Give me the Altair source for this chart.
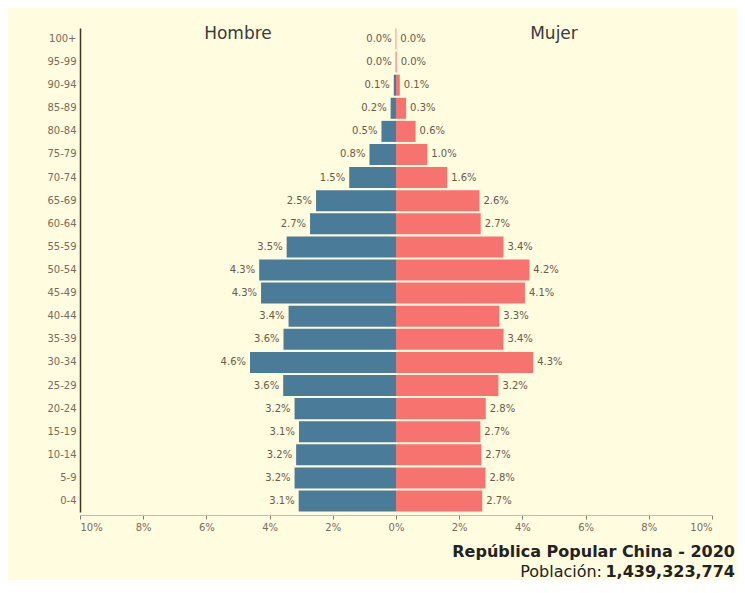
import altair as alt
import pandas as pd

ages = ["100+", "95-99", "90-94", "85-89", "80-84", "75-79", "70-74", "65-69",
        "60-64", "55-59", "50-54", "45-49", "40-44", "35-39", "30-34", "25-29",
        "20-24", "15-19", "10-14", "5-9", "0-4"]
male = [0.01, 0.01, 0.07, 0.17, 0.46, 0.84, 1.48, 2.53, 2.72, 3.46, 4.33, 4.27,
        3.40, 3.56, 4.62, 3.57, 3.21, 3.07, 3.16, 3.21, 3.08]
female = [0.01, 0.02, 0.12, 0.32, 0.62, 0.99, 1.62, 2.64, 2.68, 3.40, 4.22, 4.08,
          3.27, 3.40, 4.34, 3.24, 2.84, 2.67, 2.70, 2.83, 2.73]
x_ticks = [-10, -8, -6, -4, -2, 0, 2, 4, 6, 8, 10]
sex_names = ["Hombre", "Mujer"]
sex_colors = ["#4A7B98", "#F7736F"]
title_text = "República Popular China - 2020"
pop_label = "Población:"
pop_value = "1,439,323,774"

rows = []
for a, m, f in zip(ages, male, female):
    rows.append({"age": a, "sexo": "Hombre", "v": -m, "pct": m})
    rows.append({"age": a, "sexo": "Mujer", "v": f, "pct": f})
df = pd.DataFrame(rows)

xscale = alt.Scale(domain=[-10, 10], nice=False, zero=False)
yscale = alt.Scale(domain=ages, paddingInner=0.09, paddingOuter=0.02)

x_enc = alt.X("v:Q", scale=xscale,
              axis=alt.Axis(values=x_ticks, labelExpr="abs(datum.value) + '%'",
                            title=None, grid=False, offset=3,
                            domainColor="#c9b9a6", tickColor="#8a7a6a",
                            tickSize=4, labelColor="#7a6b5c", labelFontSize=10,
                            labelFont="DejaVu Sans", labelPadding=3))
y_enc = alt.Y("age:N", sort=ages, scale=yscale,
              axis=alt.Axis(title=None, grid=False, ticks=False,
                            domainColor="#3f3428", domainWidth=1.5,
                            labelColor="#7a6b5c", labelFontSize=10,
                            labelFont="DejaVu Sans", labelPadding=4))

base = alt.Chart(df).transform_calculate(
    label="format(datum.pct, '.1f') + '%'"
)

bars = base.mark_bar().encode(
    x=x_enc, y=y_enc,
    color=alt.Color("sexo:N", scale=alt.Scale(domain=sex_names, range=sex_colors),
                    legend=None),
)

lab_m = base.transform_filter("datum.sexo == 'Hombre'").mark_text(
    align="right", dx=-4, fontSize=10, font="DejaVu Sans", color="#6a5a4a"
).encode(x=alt.X("v:Q", scale=xscale), y=alt.Y("age:N", sort=ages, scale=yscale),
         text="label:N")

lab_f = base.transform_filter("datum.sexo == 'Mujer'").mark_text(
    align="left", dx=4, fontSize=10, font="DejaVu Sans", color="#6a5a4a"
).encode(x=alt.X("v:Q", scale=xscale), y=alt.Y("age:N", sort=ages, scale=yscale),
         text="label:N")

hdr = alt.Chart(pd.DataFrame({"s": sex_names, "x": [-5, 5], "age": [ages[0], ages[0]]})).mark_text(
    fontSize=17, font="DejaVu Sans", color="#3a3a3a", dy=-5
).encode(x=alt.X("x:Q", scale=xscale), y=alt.Y("age:N", sort=ages, scale=yscale),
         text="s:N")

t1 = alt.Chart(pd.DataFrame({"t": [title_text]})).mark_text(
    align="right", baseline="middle", fontSize=16, fontWeight="bold",
    font="DejaVu Sans", color="#222222"
).encode(x=alt.value(655), y=alt.value(524), text="t:N")

t2 = alt.Chart(pd.DataFrame({"t": [pop_value]})).mark_text(
    align="right", baseline="middle", fontSize=16, fontWeight="bold",
    font="DejaVu Sans", color="#222222"
).encode(x=alt.value(655), y=alt.value(544), text="t:N")

t3 = alt.Chart(pd.DataFrame({"t": [pop_label]})).mark_text(
    align="right", baseline="middle", fontSize=16,
    font="DejaVu Sans", color="#222222"
).encode(x=alt.value(522), y=alt.value(544), text="t:N")

chart = alt.layer(bars, lab_m, lab_f, hdr, t1, t2, t3).properties(
    width=632, height=484,
    autosize=alt.AutoSizeParams(type="none"),
    padding={"left": 72, "top": 20, "right": 25, "bottom": 68},
    background="#FFFCE0",
).configure_view(stroke=None)

chart.save("out.html", embed_options={"renderer": "svg", "actions": False})
